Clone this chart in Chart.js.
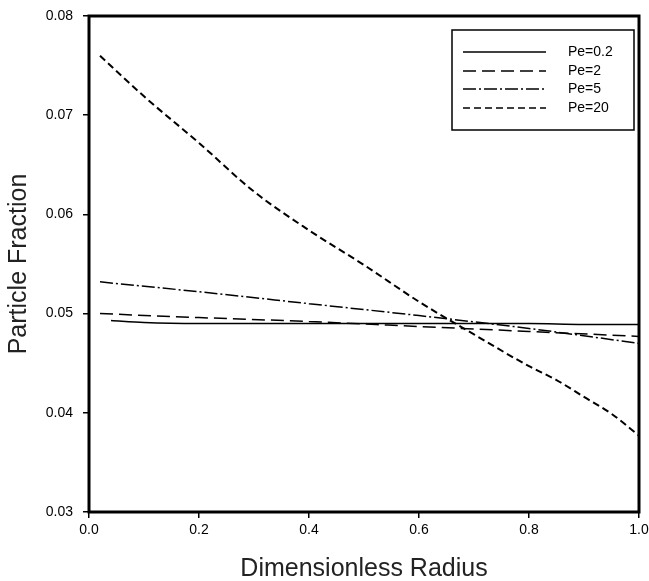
<!DOCTYPE html>
<html>
<head>
<meta charset="utf-8">
<script src="https://cdn.jsdelivr.net/npm/chart.js@4.4.1/dist/chart.umd.min.js"></script>
<style>
  html, body { margin: 0; padding: 0; background: #fff; }
  #wrap { width: 649px; height: 581px; }
</style>
</head>
<body>
<div id="wrap"><canvas id="mainChart" width="649" height="581"></canvas></div>
<script>
// values
const seriesLabels = ['Pe=0.2', 'Pe=2', 'Pe=5', 'Pe=20'];

const pe02Radius = [0.04, 0.1, 0.2, 0.4, 0.6, 0.8, 0.9, 1.0];
const pe02Fraction = [0.0493, 0.0491, 0.0490, 0.0490, 0.0490, 0.0490, 0.0489, 0.0489];

const pe2Radius = [0.02, 0.2, 0.4, 0.6, 0.8, 1.0];
const pe2Fraction = [0.0500, 0.0496, 0.0492, 0.0487, 0.0482, 0.0477];

const pe5Radius = [0.02, 0.2, 0.4, 0.6, 0.8, 1.0];
const pe5Fraction = [0.0532, 0.0522, 0.0510, 0.0498, 0.0485, 0.0470];

const pe20Radius = [0.02, 0.1, 0.2, 0.3, 0.4, 0.5, 0.6, 0.7, 0.8, 0.85, 0.9, 0.95, 1.0];
const pe20Fraction = [0.0760, 0.0719, 0.0672, 0.0623, 0.0584, 0.0549, 0.0512, 0.0479, 0.0447, 0.0433, 0.0416, 0.0399, 0.0377];

const xTicks = [0, 0.2, 0.4, 0.6, 0.8, 1.0];
const yTicks = [0.03, 0.04, 0.05, 0.06, 0.07, 0.08];

const dashes = [[], [13, 6], [13, 3, 2, 3], [7, 4]];
const widths = [1.5, 1.5, 1.5, 2];

function pts(xs, ys) {
    return xs.map((x, i) => ({ x: x, y: ys[i] }));
}

const seriesData = [
    pts(pe02Radius, pe02Fraction),
    pts(pe2Radius, pe2Fraction),
    pts(pe5Radius, pe5Fraction),
    pts(pe20Radius, pe20Fraction)
];

const FONT = '"Liberation Sans", Arial, sans-serif';

// frame around the plot + boxed legend inside
const framePlugin = {
    id: 'frame',
    afterDatasetsDraw(chart) {
        const { ctx, chartArea: a } = chart;
        ctx.save();
        ctx.strokeStyle = '#000';
        ctx.lineWidth = 3;
        ctx.strokeRect(a.left, a.top, a.right - a.left, a.bottom - a.top);

        // legend
        ctx.lineWidth = 1.5;
        ctx.strokeRect(452, 30, 182, 100);
        ctx.font = '14px ' + FONT;
        ctx.fillStyle = '#000';
        ctx.textBaseline = 'middle';
        const rows = [52, 71, 89, 108];
        chart.data.datasets.forEach((ds, i) => {
            ctx.beginPath();
            ctx.lineWidth = 1.5;
            ctx.setLineDash(ds.borderDash);
            ctx.moveTo(463, rows[i]);
            ctx.lineTo(546, rows[i]);
            ctx.stroke();
            ctx.setLineDash([]);
            ctx.fillText(ds.label, 568, rows[i]);
        });
        ctx.restore();
    }
};

const ctx = document.getElementById('mainChart').getContext('2d');
new Chart(ctx, {
    type: 'scatter',
    data: {
        datasets: seriesLabels.map((label, i) => ({
            label: label,
            data: seriesData[i],
            showLine: true,
            borderColor: '#000',
            borderWidth: widths[i],
            borderDash: dashes[i],
            pointRadius: 0,
            fill: false,
            cubicInterpolationMode: 'monotone'
        }))
    },
    options: {
        responsive: false,
        animation: false,
        layout: { padding: { left: 0, top: 16, right: 10, bottom: 0 } },
        plugins: {
            legend: { display: false },
            tooltip: { enabled: false }
        },
        scales: {
            x: {
                type: 'linear',
                min: 0,
                max: 1,
                afterBuildTicks: s => { s.ticks = xTicks.map(v => ({ value: v })); },
                afterFit: s => { s.height = 69; s.paddingLeft = 0; s.paddingRight = 0; },
                border: { display: false },
                grid: { drawOnChartArea: false, drawTicks: true, tickLength: 6, color: '#000', lineWidth: 1.5 },
                ticks: {
                    color: '#000',
                    padding: 4,
                    maxRotation: 0,
                    font: { family: FONT, size: 14 },
                    callback: v => v.toFixed(1)
                },
                title: {
                    display: true,
                    text: 'Dimensionless Radius',
                    color: '#222',
                    padding: { top: 0, bottom: -3 },
                    font: { family: FONT, size: 25 }
                }
            },
            y: {
                type: 'linear',
                min: 0.03,
                max: 0.08,
                afterBuildTicks: s => { s.ticks = yTicks.map(v => ({ value: v })); },
                afterFit: s => { s.width = 89; s.paddingTop = 0; s.paddingBottom = 0; },
                border: { display: false },
                grid: { drawOnChartArea: false, drawTicks: true, tickLength: 6, color: '#000', lineWidth: 1.5 },
                ticks: {
                    color: '#000',
                    padding: 10,
                    font: { family: FONT, size: 14 },
                    callback: v => v.toFixed(2)
                },
                title: {
                    display: true,
                    text: 'Particle Fraction',
                    color: '#222',
                    padding: { top: 4, bottom: 0 },
                    font: { family: FONT, size: 25 }
                }
            }
        }
    },
    plugins: [framePlugin]
});
</script>
</body>
</html>
